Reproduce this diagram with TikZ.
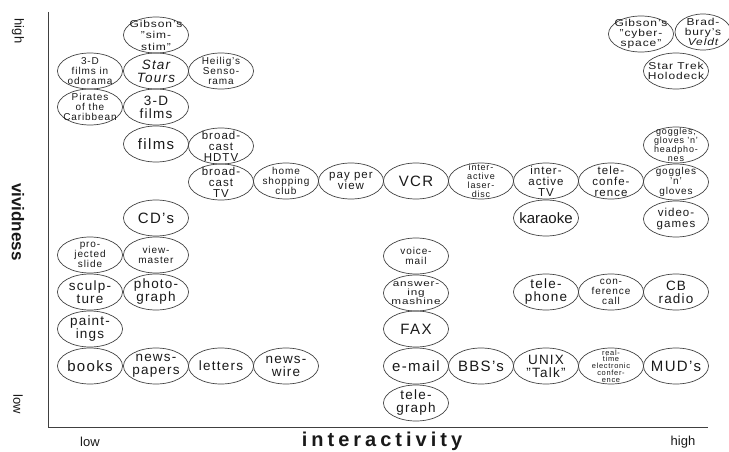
\documentclass[tikz,border=0pt]{standalone}
\usepackage{fontspec}
\setmainfont{Liberation Sans}[LetterSpace=9]
\newfontfamily\plainfont{Liberation Sans}
\newfontfamily\widefont{Liberation Sans}[LetterSpace=20]
\usetikzlibrary{shapes.geometric}

\begin{document}
\begin{tikzpicture}[x=1pt,y=1pt]
\tikzstyle{every node}+=[inner sep=0pt, text=black!90]
\tikzstyle{blob}=[draw=black!75, line width=0.7pt, ellipse, inner sep=-6pt, minimum width=65pt, minimum height=36pt, align=center]
\tikzstyle{fA}=[font=\fontsize{15}{15}\selectfont]
\tikzstyle{fB}=[font=\fontsize{13.5}{13}\selectfont]
\tikzstyle{fC}=[font=\fontsize{11.5}{11}\selectfont]
\tikzstyle{fD}=[font=\fontsize{10}{10}\selectfont]
\tikzstyle{fE}=[font=\fontsize{9}{9}\selectfont]
\tikzstyle{fF}=[font=\fontsize{7.5}{6.8}\selectfont]
\tikzstyle{fW}=[font=\fontsize{10}{10}\selectfont\addfontfeature{FakeStretch=1.2}]
\useasboundingbox (0,0) rectangle (729,-452);
% axes
\draw [black!75, line width=1pt] (48,-12) -- (48,-427) -- (708,-427);
\node [rotate=-90, font=\plainfont\fontsize{13}{13}\selectfont] (vhigh) at (18,-31) {high};
\node [rotate=-90, font=\plainfont\fontsize{17}{17}\selectfont\bfseries] (vlab) at (18,-222) {vividness};
\node [rotate=-90, font=\plainfont\fontsize{13}{13}\selectfont] (vlow) at (18,-404) {low};
\node [font=\plainfont\fontsize{13}{13}\selectfont] (ilow) at (90,-442) {low};
\node [font=\widefont\fontsize{20}{20}\selectfont\bfseries] (ilab) at (382,-441) {interactivity};
\node [font=\plainfont\fontsize{13}{13}\selectfont] (ihigh) at (683,-442) {high};
% column 1
\node [blob, fD] (odorama) at (90,-71) {3-D\\films in\\odorama};
\node [blob, fD] (pirates) at (90,-107) {Pirates\\of the\\Caribbean};
\node [blob, fD] (slide) at (90,-255) {pro-\\jected\\slide};
\node [blob, fB] (sculpture) at (90,-292) {sculp-\\ture};
\node [blob, fB] (paintings) at (90,-329) {paint-\\ings};
\node [blob, fA] (books) at (90,-366) {books};
% column 2
\node [blob, font=\fontsize{10}{11.5}\selectfont\addfontfeature{FakeStretch=1.2}] (simstim) at (156,-35) {Gibson's\\"sim-\\stim"};
\node [blob, fB] (startours) at (156,-71) {\itshape Star\\\itshape Tours};
\node [blob, fB] (films3d) at (156,-107) {3-D\\films};
\node [blob, fA] (films) at (156,-144) {films};
\node [blob, fA] (cds) at (156,-218) {CD's};
\node [blob, fD] (viewmaster) at (156,-255) {view-\\master};
\node [blob, fB] (photo) at (156,-292) {photo-\\graph};
\node [blob, fB] (newspapers) at (156,-366) {news-\\papers};
% column 3
\node [blob, fD] (sensorama) at (221,-71) {Heilig's\\Senso-\\rama};
\node [blob, fC] (hdtv) at (221,-146) {broad-\\cast\\HDTV};
\node [blob, fC] (bctv) at (221,-182) {broad-\\cast\\TV};
\node [blob, fB] (letters) at (221,-366) {letters};
% columns 4 and 5
\node [blob, fD] (shopping) at (286,-181) {home\\shopping\\club};
\node [blob, fB] (newswire) at (286,-366) {news-\\wire};
\node [blob, fC] (payview) at (351,-181) {pay per\\view};
% column 6
\node [blob, fA] (vcr) at (416,-181) {VCR};
\node [blob, fD] (voicemail) at (416,-256) {voice-\\mail};
\node [blob, font=\fontsize{9}{9}\selectfont\addfontfeature{FakeStretch=1.3}] (answering) at (416,-293) {answer-\\ing\\mashine};
\node [blob, fA] (fax) at (416,-329) {FAX};
\node [blob, fA] (email) at (416,-366) {e-mail};
\node [blob, fB] (telegraph) at (416,-403) {tele-\\graph};
% column 7
\node [blob, fE] (laserdisc) at (481,-181) {inter-\\active\\laser-\\disc};
\node [blob, fA] (bbs) at (481,-366) {BBS's};
% column 8
\node [blob, fC] (itv) at (546,-181) {inter-\\active\\TV};
\node [blob, font=\plainfont\fontsize{15}{15}\selectfont] (karaoke) at (546,-218) {karaoke};
\node [blob, fB] (telephone) at (546,-292) {tele-\\phone};
\node [blob, fB] (unixtalk) at (546,-366) {UNIX\\"Talk"};
% column 9
\node [blob, fC] (teleconf) at (611,-181) {tele-\\confe-\\rence};
\node [blob, fD] (confcall) at (611,-292) {con-\\ference\\call};
\node [blob, fF] (realtime) at (611,-366) {real-\\time\\electronic\\confer-\\ence};
% column 10
\node [blob, fE] (headphones) at (676,-145) {goggles,\\gloves 'n'\\headpho-\\nes};
\node [blob, fD] (goggles) at (676,-182) {goggles\\'n'\\gloves};
\node [blob, fC] (videogames) at (676,-219) {video-\\games};
\node [blob, fB] (cbradio) at (676,-292) {CB\\radio};
\node [blob, fA] (muds) at (676,-366) {MUD's};
% top right
\node [blob, fW] (cyberspace) at (641,-34) {Gibson's\\"cyber-\\space"};
\node [blob, fW, minimum width=56pt] (veldt) at (703,-32) {Brad-\\bury's\\\itshape Veldt};
\node [blob, fW] (holodeck) at (676,-71) {Star Trek\\Holodeck};
\end{tikzpicture}
\end{document}
